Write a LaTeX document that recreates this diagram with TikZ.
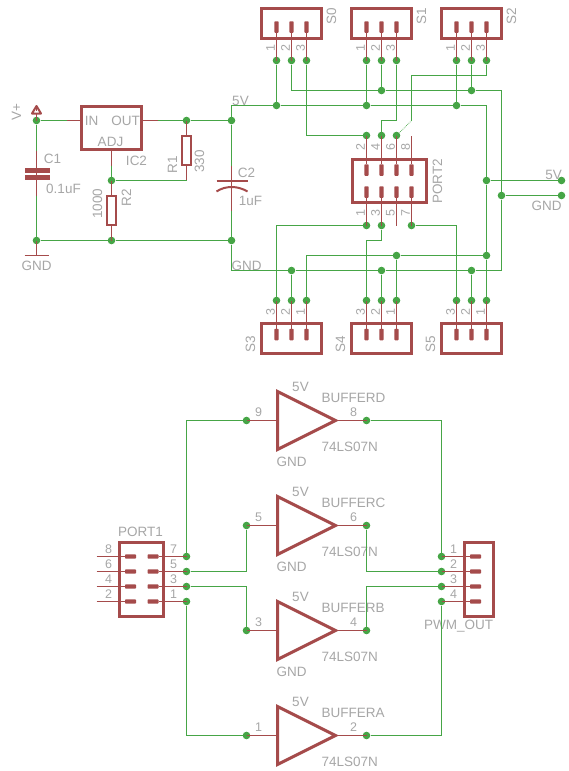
\documentclass[tikz,border=0pt]{standalone}
\usepackage{fontspec}
\setmainfont{Liberation Sans}
\definecolor{partred}{HTML}{A54B4B}
\definecolor{wiregreen}{HTML}{46A546}
\definecolor{textgray}{HTML}{A6A6A6}
\begin{document}
\begin{tikzpicture}[x=1pt, y=-1pt,
  wire/.style={draw=wiregreen, line width=1.1pt},
  pin/.style={draw=partred, line width=1.1pt},
  dot/.style={circle, fill=wiregreen, inner sep=0pt, minimum size=7.6pt},
  part/.style={draw=partred, line width=3pt, inner sep=0pt, outer sep=0pt},
  res/.style={draw=partred, line width=2.4pt, inner sep=0pt, outer sep=0pt, minimum width=9.5pt, minimum height=28.5pt},
  padv/.style={fill=partred, rounded corners=0.8pt, inner sep=0pt, minimum width=4.4pt, minimum height=11.5pt},
  padh/.style={fill=partred, rounded corners=0.8pt, inner sep=0pt, minimum width=11pt, minimum height=4.4pt},
  lbl/.style={text=textgray, inner sep=0pt, font=\fontsize{13.5}{13.5}\selectfont},
  num/.style={text=textgray, inner sep=0pt, font=\fontsize{12.5}{12.5}\selectfont}]
  \useasboundingbox (-0.5,-0.5) rectangle (567.5,770.5);

  % regulator
  \node[dot] (vp) at (36,120) {};
  \node[dot] (jg1) at (36,240) {};
  \node[dot] (jg2) at (111,240) {};
  \node[dot] (jg) at (231,240) {};
  \node[dot] (j3) at (186,120) {};
  \node[dot] (j4) at (111,180) {};
  \node[dot] (j5a) at (231,120) {};
  \node[part, minimum width=59.5pt, minimum height=43pt] (ic2) at (111,127.5) {};
  \node[res] (r1) at (186,150) {};
  \node[res] (r2) at (111,210) {};
  \coordinate (ic2-in) at (66,120);
  \coordinate (ic2-out) at (157,120);
  \coordinate (ic2-adj) at (111,165);
  \coordinate (r1-b) at (186,180);
  \coordinate (c1-t) at (36,150);
  \coordinate (c1-b) at (36,195);
  \coordinate (c2-t) at (231,165);
  \coordinate (c2-b) at (231,210);
  \coordinate (gnd1) at (36,255);
  \coordinate (vp-t) at (36,113);
  \draw[pin] (ic2-in) -- (ic2.west |- ic2-in);
  \draw[pin] (ic2.east |- ic2-out) -- (ic2-out);
  \draw[pin] (ic2.south -| ic2-adj) -- (ic2-adj);
  \draw[pin] (j3.center) -- (r1);
  \draw[pin] (r1) -- (r1-b);
  \draw[pin] (j4.center) -- (r2);
  \draw[pin] (r2) -- (jg2.center);
  \draw[pin] (c1-t) -- (c1-b);
  \draw[pin] (c2-t) -- (c2-b);
  \draw[pin] (jg1.center) -- (gnd1);
  \draw[pin] (vp-t) -- (vp.center);
  \draw[partred, line width=1.6pt] (24,255) -- (48,255);
  \draw[partred, line width=2pt, line join=round] (31.5,113) -- (36,105.5) -- (40.5,113) -- cycle;
  \draw[partred, line width=1pt] (36,107.5) -- (36,110.5);
  \fill[partred] (24,167.5) rectangle (49,172.5);
  \fill[partred] (24,174.5) rectangle (49,179.5);
  \draw[partred, line width=2pt] (216,180) -- (247,180);
  \draw[partred, line width=2pt] (216,191) .. controls (225,185) and (237,185) .. (247,191);
  \draw[wire] (vp) -- (ic2-in);
  \draw[wire] (vp) -- (c1-t);
  \draw[wire] (c1-b) -- (jg1);
  \draw[wire] (jg1) -- (jg2);
  \draw[wire] (jg2) -- (jg);
  \draw[wire] (ic2-out) -- (j3);
  \draw[wire] (j3) -- (j5a);
  \draw[wire] (ic2-adj) -- (j4);
  \draw[wire] (j4) -| (r1-b);
  \draw[wire] (j5a) -- (c2-t);
  \draw[wire] (c2-b) -- (jg);
  \node[lbl, rotate=90] (vp-l) at (16,112) {V+};
  \node[lbl] (gnd1-l) at (36,265) {GND};
  \node[lbl] (c1-l) at (52,158) {C1};
  \node[lbl] (c1-v) at (63,188) {0.1uF};
  \node[lbl] (ic2-a) at (91,120) {IN};
  \node[lbl] (ic2-b) at (125,120) {OUT};
  \node[lbl] (ic2-c) at (110,141) {ADJ};
  \node[lbl] (ic2-l) at (136,160) {IC2};
  \node[lbl, rotate=90] (r1-l) at (172,164) {R1};
  \node[lbl, rotate=90] (r1-v) at (199,161) {330};
  \node[lbl, rotate=90] (r2-l) at (126,197) {R2};
  \node[lbl, rotate=90] (r2-v) at (97,203) {1000};
  \node[lbl] (c2-l) at (246,172) {C2};
  \node[lbl] (c2-v) at (250,200) {1uF};
  \node[lbl] (v5-l) at (240,100) {5V};
  \node[lbl] (gnd2-l) at (246,265) {GND};

  % servo headers
  \foreach \nm/\lab/\x in {s0/S0/276,s1/S1/366,s2/S2/456} {
    \node[part, minimum width=59.5pt, minimum height=30pt] (\nm) at ({\x+15},23) {};
    \foreach \i in {1,2,3} {
      \node[dot] (\nm-\i) at ({\x+15*(\i-1)},60) {};
      \node[padv] (\nm-p\i) at ({\x+15*(\i-1)},26.5) {};
      \node[num, rotate=90] (\nm-n\i) at ({\x+15*(\i-1)-6},48) {\i};
      \draw[pin] (\nm-p\i) -- (\nm-\i.center);
    }
    \node[lbl, rotate=90] (\nm-l) at ({\x+55},16) {\lab};
  }
  \foreach \nm/\lab/\x in {s3/S3/276,s4/S4/366,s5/S5/456} {
    \node[part, minimum width=59.5pt, minimum height=30pt] (\nm) at ({\x+15},338) {};
    \foreach \i/\k in {3/0,2/1,1/2} {
      \node[dot] (\nm-\i) at ({\x+15*\k},300) {};
      \node[padv] (\nm-p\i) at ({\x+15*\k},334) {};
      \node[num, rotate=90] (\nm-n\i) at ({\x+15*\k-6},312) {\i};
      \draw[pin] (\nm-p\i) -- (\nm-\i.center);
    }
    \node[lbl, rotate=90] (\nm-l) at ({\x-26},344) {\lab};
  }

  % port 2
  \node[part, minimum width=74pt, minimum height=43pt] (p2) at (388.5,180.5) {};
  \node[dot] (p2-2) at (366,135) {};
  \node[dot] (p2-4) at (381,135) {};
  \node[dot] (p2-6) at (396,135) {};
  \coordinate (p2-8) at (411,135);
  \node[dot] (p2-1) at (366,225) {};
  \node[dot] (p2-3) at (381,225) {};
  \coordinate (p2-5) at (396,225);
  \node[dot] (p2-7) at (411,225) {};
  \foreach \t/\b/\x in {2/1/366,4/3/381,6/5/396,8/7/411} {
    \node[padv] (p2-p\t) at (\x,169.5) {};
    \node[padv] (p2-p\b) at (\x,191.5) {};
    \draw[pin] (p2-p\t) -- (p2-\t.center);
    \draw[pin] (p2-p\b) -- (p2-\b.center);
    \node[num, rotate=90] (p2-n\t) at ({\x-6},147) {\t};
    \node[num, rotate=90] (p2-n\b) at ({\x-6},213) {\b};
  }
  \node[lbl, rotate=90] (p2-l) at (437,181) {PORT2};

  % bus junctions
  \node[dot] (j5b) at (276,105) {};
  \node[dot] (j5c) at (366,105) {};
  \node[dot] (j5d) at (456,105) {};
  \node[dot] (j5e) at (486,180) {};
  \node[dot] (j5f) at (486,255) {};
  \node[dot] (j6a) at (381,90) {};
  \node[dot] (j6b) at (471,90) {};
  \node[dot] (j6c) at (501,195) {};
  \node[dot] (j7a) at (291,270) {};
  \node[dot] (j7b) at (381,270) {};
  \node[dot] (j7c) at (471,270) {};
  \node[dot] (j8a) at (396,255) {};
  \node[dot] (o5v) at (561,180) {};
  \node[dot] (ogn) at (561,195) {};
  \coordinate (k1) at (381,120);
  \coordinate (k2) at (411,75);
  \coordinate (k3) at (411,120);
  \coordinate (k4) at (366,240);
  \draw[wire] (j5a) |- (j5b);
  \draw[wire] (j5b) -- (j5c);
  \draw[wire] (j5c) -- (j5d);
  \draw[wire] (j5d) -| (j5e);
  \draw[wire] (j5e) -- (j5f);
  \draw[wire] (j5f) -- (s5-1);
  \draw[wire] (s0-2) |- (j6a);
  \draw[wire] (j6a) -- (j6b);
  \draw[wire] (j6b) -| (j6c);
  \draw[wire] (j6c) |- (j7c);
  \draw[wire] (j7c) -- (j7b);
  \draw[wire] (j7b) -- (j7a);
  \draw[wire] (j7a) -| (jg);
  \draw[wire] (s0-1) -- (j5b);
  \draw[wire] (s1-1) -- (j5c);
  \draw[wire] (s2-1) -- (j5d);
  \draw[wire] (s1-2) -- (j6a);
  \draw[wire] (s2-2) -- (j6b);
  \draw[wire] (s0-3) |- (p2-2);
  \draw[wire] (s1-3) |- (k1) -- (p2-4);
  \draw[wire] (s2-3) |- (k2) -- (k3);
  \draw[wire, line width=0.7pt, densely dotted] (k3) -- (p2-6);
  \draw[wire] (p2-1) -| (s3-3);
  \draw[wire] (p2-3) |- (k4) -- (s4-3);
  \draw[wire] (p2-7) -| (s5-3);
  \draw[wire] (s3-1) |- (j8a);
  \draw[wire] (j8a) -- (j5f);
  \draw[wire] (j8a) -- (s4-1);
  \draw[wire] (s3-2) -- (j7a);
  \draw[wire] (s4-2) -- (j7b);
  \draw[wire] (s5-2) -- (j7c);
  \draw[wire] (j5e) -- (o5v);
  \draw[wire] (j6c) -- (ogn);
  \node[lbl] (o5v-l) at (553,174) {5V};
  \node[lbl] (ogn-l) at (546,205) {GND};

  % port 1 and pwm out
  \node[part, minimum width=44pt, minimum height=74pt] (p1) at (141,578.5) {};
  \node[part, minimum width=29pt, minimum height=74pt] (pw) at (478,578.5) {};
  \foreach \l/\r/\o/\y in {8/7/1/556,6/5/2/571,4/3/3/586,2/1/4/601} {
    \coordinate (p1-\l) at (96,\y);
    \node[dot] (p1-\r) at (186,\y) {};
    \node[dot] (pw-\o) at (441,\y) {};
    \node[padh] (p1-p\l) at (130,\y) {};
    \node[padh] (p1-p\r) at (152.5,\y) {};
    \node[padh] (pw-p\o) at (475,\y) {};
    \draw[pin] (p1-\l) -- (p1-p\l);
    \draw[pin] (p1-p\r) -- (p1-\r.center);
    \draw[pin] (pw-\o.center) -- (pw-p\o);
    \node[num] (p1-n\l) at (108,{\y-7}) {\l};
    \node[num] (p1-n\r) at (173,{\y-7}) {\r};
    \node[num] (pw-n\o) at (453,{\y-7}) {\o};
  }
  \node[lbl] (p1-l) at (140,531) {PORT1};
  \node[lbl] (pw-l) at (458,626) {PWM\_OUT};

  % buffers
  \foreach \nm/\lab/\y/\a/\b in {bd/BUFFERD/420/9/8,bc/BUFFERC/525/5/6,bb/BUFFERB/630/3/4,ba/BUFFERA/735/1/2} {
    \node[dot] (\nm-i) at (246,\y) {};
    \node[dot] (\nm-o) at (366,\y) {};
    \coordinate (\nm-in) at (276,\y);
    \coordinate (\nm-tip) at (337,\y);
    \draw[partred, line width=3pt, miter limit=10] (277,{\y-29}) -- (335,\y) -- (277,{\y+29}) -- cycle;
    \draw[pin] (\nm-i.center) -- (\nm-in);
    \draw[pin] (\nm-tip) -- (\nm-o.center);
    \node[num] (\nm-na) at (258,{\y-8}) {\a};
    \node[num] (\nm-nb) at (353,{\y-8}) {\b};
    \node[lbl] (\nm-v) at (300,{\y-34}) {5V};
    \node[lbl, anchor=west] (\nm-l) at (321,{\y-23}) {\lab};
    \node[lbl, anchor=west] (\nm-t) at (321,{\y+26}) {74LS07N};
  }
  \node[lbl, anchor=west] (bd-g) at (276,461) {GND};
  \node[lbl, anchor=west] (bc-g) at (276,566) {GND};
  \node[lbl, anchor=west] (bb-g) at (276,671) {GND};
  \draw[wire] (p1-7) |- (bd-i);
  \draw[wire] (bd-o) -| (pw-1);
  \draw[wire] (p1-5) -| (bc-i);
  \draw[wire] (bc-o) |- (pw-2);
  \draw[wire] (p1-3) -| (bb-i);
  \draw[wire] (bb-o) |- (pw-3);
  \draw[wire] (p1-1) |- (ba-i);
  \draw[wire] (ba-o) -| (pw-4);
\end{tikzpicture}
\end{document}
